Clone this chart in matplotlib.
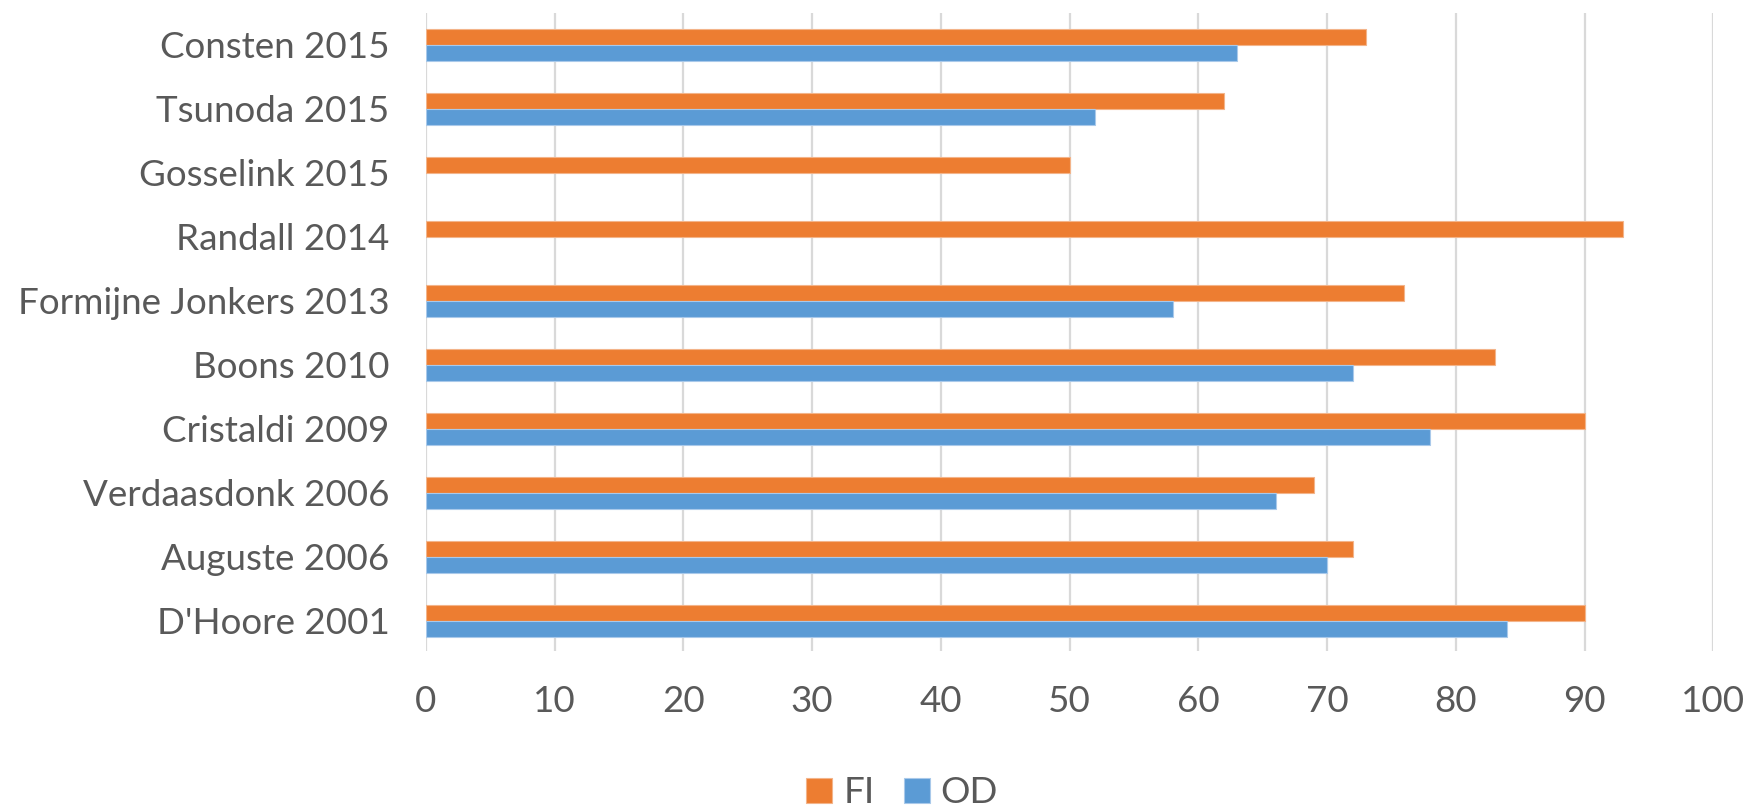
import numpy as np
import matplotlib.pyplot as plt

plt.rcParams['font.family'] = ['Lato', 'DejaVu Sans']

studies = ["Consten 2015", "Tsunoda 2015", "Gosselink 2015", "Randall 2014",
           "Formijne Jonkers 2013", "Boons 2010", "Cristaldi 2009",
           "Verdaasdonk 2006", "Auguste 2006", "D'Hoore 2001"]
fi = [73, 62, 50, 93, 76, 83, 90, 69, 72, 90]
od = [63, 52, np.nan, np.nan, 58, 72, 78, 66, 70, 84]

ORANGE = "#ED7D31"
BLUE = "#5B9BD5"
TEXT = "#595959"
GRID = "#D9D9D9"

fig = plt.figure(figsize=(17.52, 8.10), dpi=100)
ax = fig.add_axes([0.243, 0.196, 0.735, 0.788])

y = np.arange(len(studies))
h = 0.25
ax.barh(y - h / 2, fi, height=h, color=ORANGE, edgecolor="#F3B48A", linewidth=0.8, label="FI", zorder=3)
ax.barh(y + h / 2, od, height=h, color=BLUE, edgecolor="#A9C9EA", linewidth=0.8, label="OD", zorder=3)

ax.set_xlim(0, 100)
ax.set_ylim(len(studies) - 0.52, -0.5)
ax.set_xticks(np.arange(0, 101, 10))
ax.set_yticks(y)
ax.set_yticklabels(studies)
ax.tick_params(axis="both", length=0, labelsize=26.5, labelcolor=TEXT)
ax.tick_params(axis="x", pad=24)
ax.tick_params(axis="y", pad=26)
ax.grid(axis="x", color=GRID, linewidth=1.6, zorder=0)
for s in ax.spines.values():
    s.set_visible(False)

fig.legend(loc="center", bbox_to_anchor=(0.515, 0.021), ncol=2, frameon=False,
           fontsize=26.5, labelcolor=TEXT, handlelength=0.7, handleheight=0.7,
           handletextpad=0.3, columnspacing=0.8)

fig.savefig("out.png", dpi=100)
